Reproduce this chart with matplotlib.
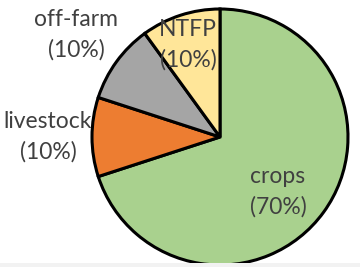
import matplotlib
matplotlib.use("Agg")
import matplotlib.pyplot as plt
from matplotlib.patches import Rectangle

# data
categories = ["crops", "livestock", "off-farm", "NTFP"]
shares = [70, 10, 10, 10]
colors = ["#A9D18E", "#ED7D31", "#A5A5A5", "#FFE699"]

# label block centres, in pixels from top-left
label_pos = [(278, 192), (48, 137), (76, 35), (188, 45)]

plt.rcParams['font.family'] = ['Lato', 'DejaVu Sans']

H = 267
fig = plt.figure(figsize=(3.6, 2.67), dpi=100)
ax = fig.add_axes([0, 0, 1, 1])

wedges, texts = ax.pie(shares, colors=colors, startangle=90, counterclock=False,
                       center=(220, H - 137), radius=128, frame=True,
                       labels=["%s\n(%d%%)" % (c, s) for c, s in zip(categories, shares)],
                       wedgeprops=dict(edgecolor="black", linewidth=2.2),
                       textprops=dict(fontsize=16.5, color="#404040", linespacing=1.5))
ax.set_xlim(0, 360)
ax.set_ylim(0, H)
ax.set_aspect('equal')
ax.axis('off')

for t, (px, py) in zip(texts, label_pos):
    t.set_position((px, H - py))
    t.set_ha("center")
    t.set_va("center")
    t.set_zorder(10)

# light strip along the bottom edge
fig.patches.append(Rectangle((0, 0), 1, 4 / H, transform=fig.transFigure,
                             facecolor="#F2F2F2", edgecolor="none", zorder=5))

fig.savefig("out.png", dpi=100)
